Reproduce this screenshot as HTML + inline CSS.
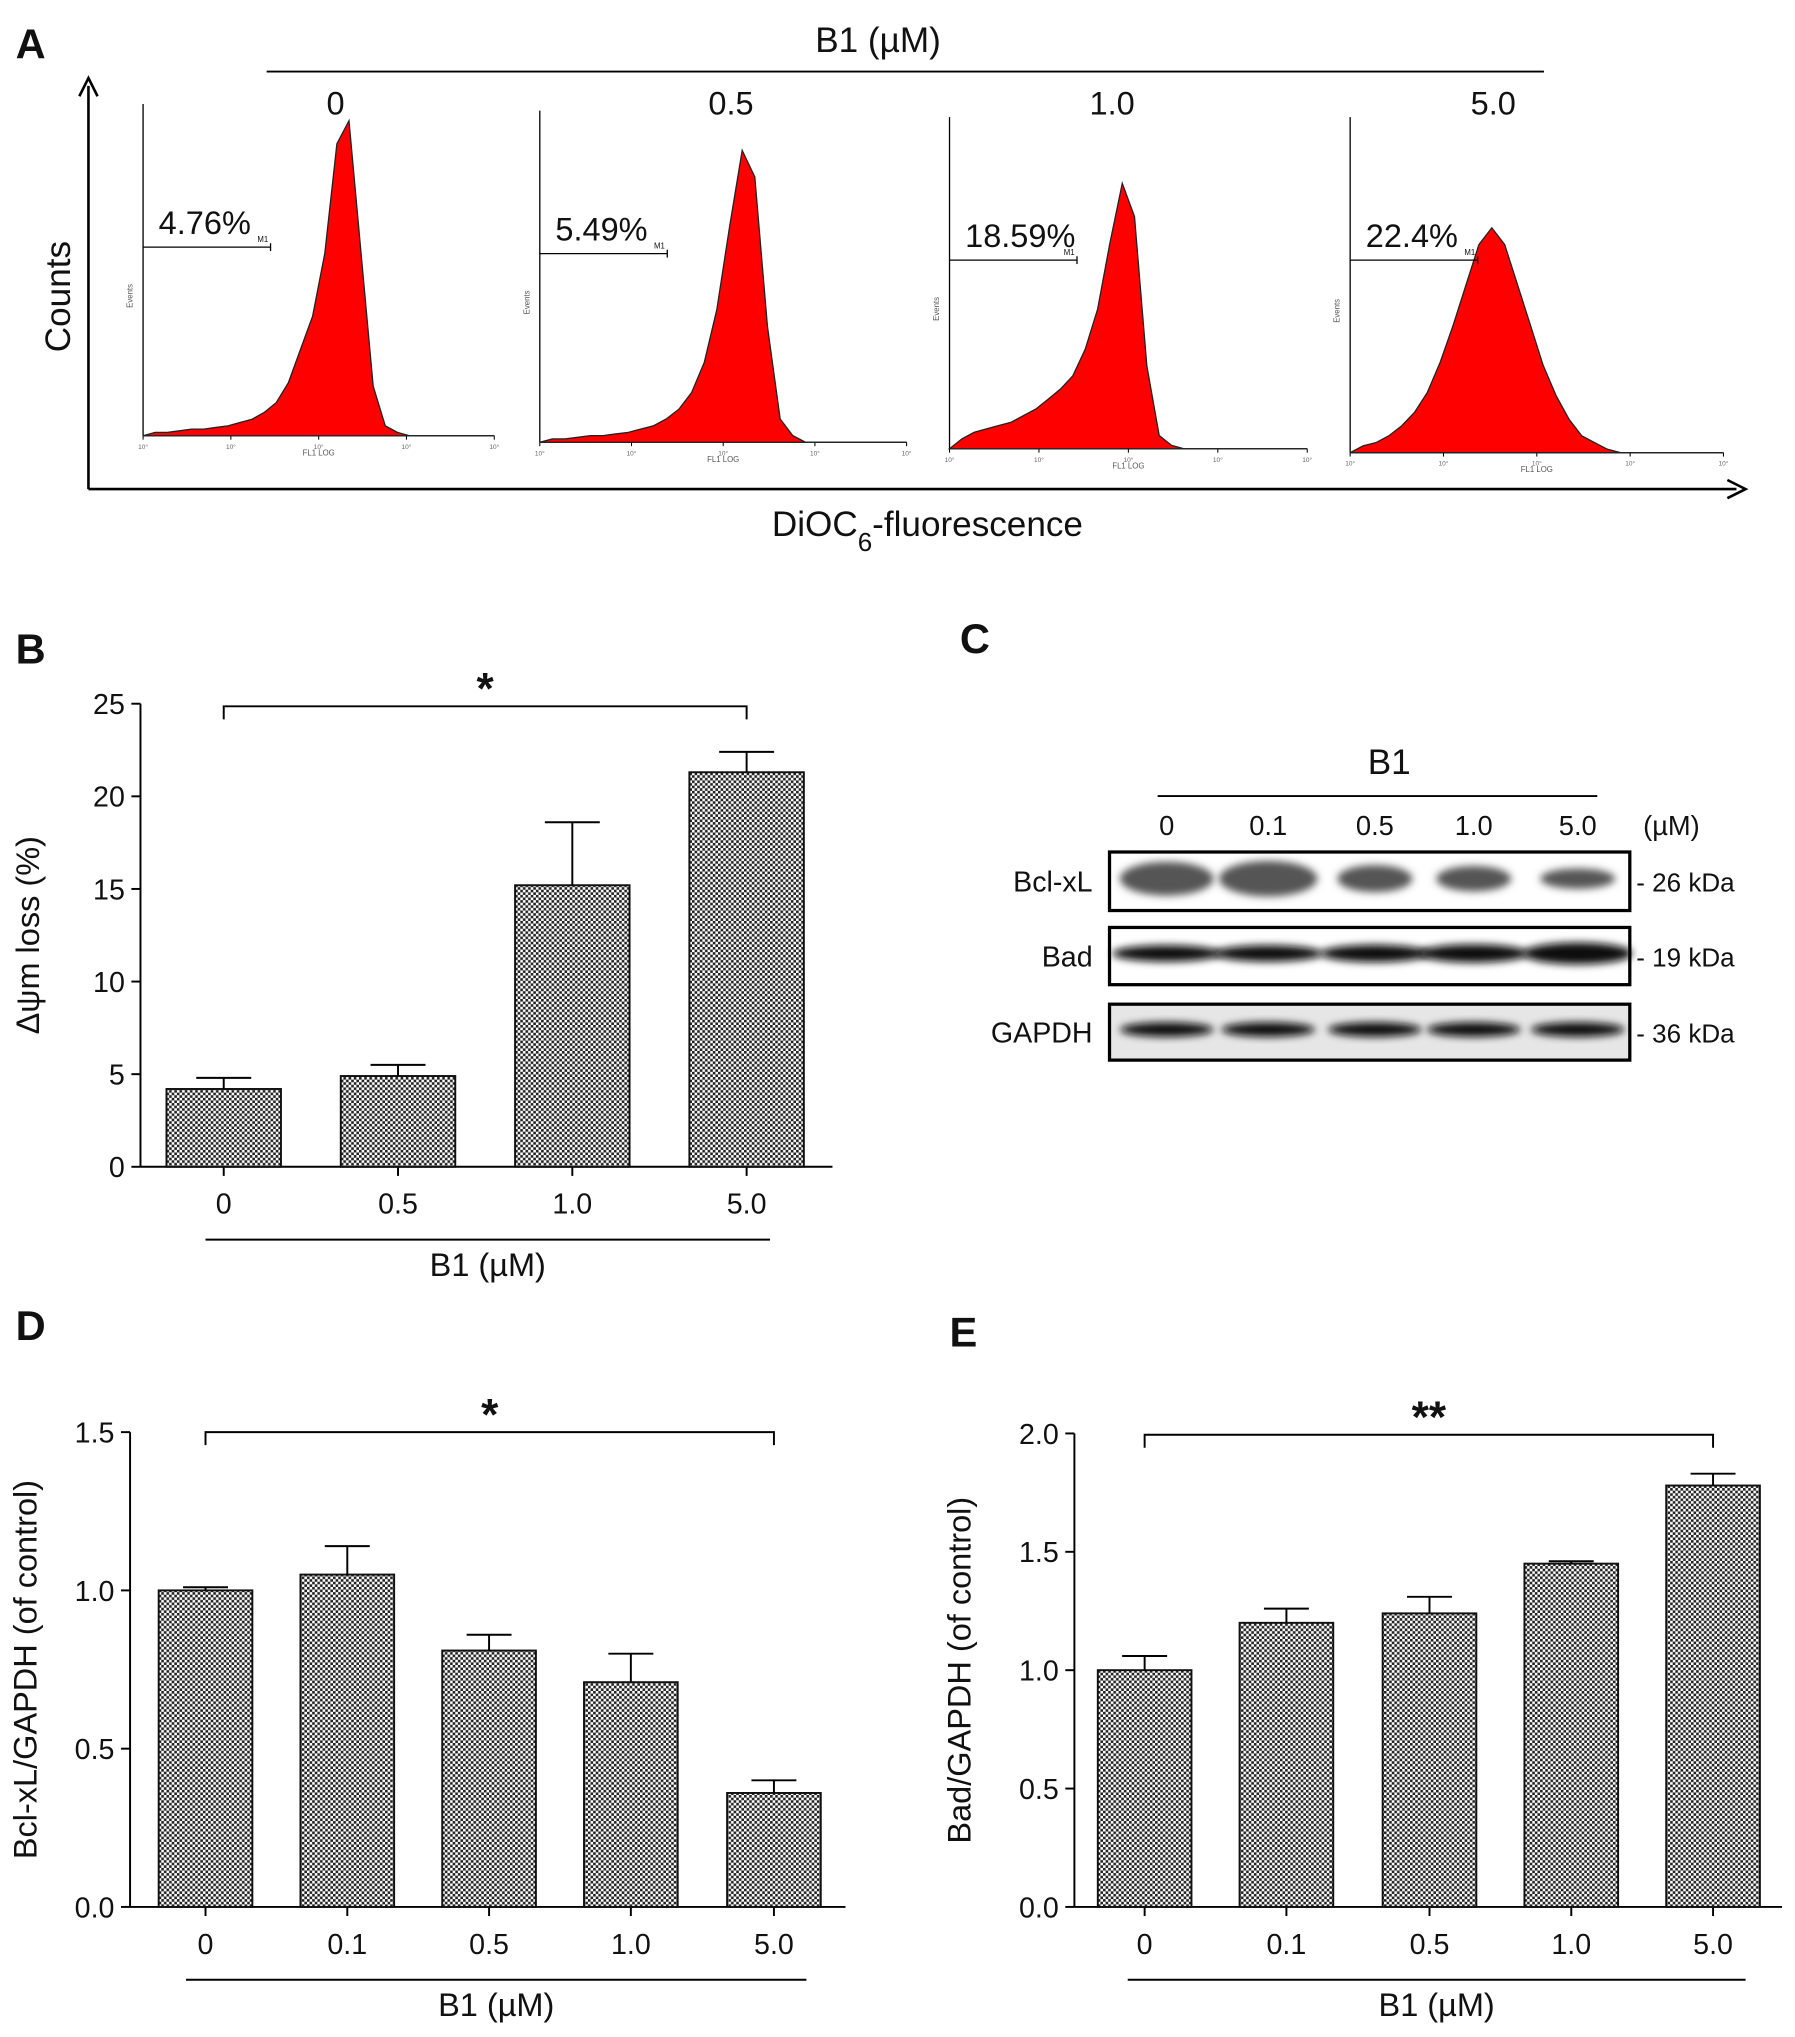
<!DOCTYPE html>
<html><head><meta charset="utf-8"><style>
html,body{margin:0;padding:0;background:#fff}
svg{display:block;font-family:"Liberation Sans",Arial,sans-serif}
</style></head><body>
<svg id="fig" width="1795" height="2037" viewBox="0 0 1380 1566" preserveAspectRatio="none" xmlns="http://www.w3.org/2000/svg">
<defs>
<pattern id="chk" width="4" height="4" patternUnits="userSpaceOnUse"><rect width="4" height="4" fill="#fff"/><rect width="2" height="2" fill="#222"/><rect x="2" y="2" width="2" height="2" fill="#222"/></pattern>
<filter id="blur" x="-20%" y="-50%" width="140%" height="200%"><feGaussianBlur stdDeviation="3"/></filter>
</defs>
<g id="root"></g>
</svg>
<script>
// ---- data ----
const histDoses = ["0","0.5","1.0","5.0"];
const histPercents = ["4.76%","5.49%","18.59%","22.4%"];
const hist0 = [0,0.01,0.01,0.015,0.02,0.02,0.025,0.03,0.04,0.05,0.07,0.1,0.16,0.26,0.36,0.55,0.88,0.95,0.55,0.15,0.03,0.01,0,0,0,0,0,0,0,0];
const hist05 = [0,0.01,0.01,0.015,0.02,0.02,0.025,0.03,0.04,0.05,0.07,0.1,0.15,0.24,0.4,0.65,0.88,0.8,0.35,0.07,0.02,0,0,0,0,0,0,0,0,0];
const hist10 = [0,0.03,0.05,0.06,0.07,0.08,0.1,0.12,0.15,0.18,0.22,0.3,0.42,0.62,0.8,0.7,0.25,0.04,0.01,0,0,0,0,0,0,0,0,0,0,0];
const hist50 = [0,0.02,0.03,0.05,0.08,0.12,0.18,0.27,0.38,0.5,0.62,0.67,0.62,0.5,0.38,0.26,0.17,0.1,0.05,0.03,0.01,0,0,0,0,0,0,0,0,0];
const bCats = ["0","0.5","1.0","5.0"];
const bVals = [4.2,4.9,15.2,21.3];
const bErrs = [0.6,0.6,3.4,1.1];
const bTicks = [0,5,10,15,20,25];
const dCats = ["0","0.1","0.5","1.0","5.0"];
const dVals = [1.0,1.05,0.81,0.71,0.36];
const dErrs = [0.01,0.09,0.05,0.09,0.04];
const dTicks = [0,0.5,1.0,1.5];
const eCats = ["0","0.1","0.5","1.0","5.0"];
const eVals = [1.0,1.2,1.24,1.45,1.78];
const eErrs = [0.06,0.06,0.07,0.01,0.05];
const eTicks = [0,0.5,1.0,1.5,2.0];
const blotLanes = ["0","0.1","0.5","1.0","5.0"];
const bclBand = [1.0,1.05,0.8,0.75,0.6];
const badBand = [0.9,0.9,0.95,1.0,1.2];
const gapBand = [1,1,1,1,1];

const NS="http://www.w3.org/2000/svg";
const root=document.getElementById('root');
function el(tag,attrs,parent,text){const e=document.createElementNS(NS,tag);for(const k in attrs)e.setAttribute(k,attrs[k]);if(text!==undefined)e.textContent=text;(parent||root).appendChild(e);return e;}
function line(x1,y1,x2,y2,w,p){return el('line',{x1,y1,x2,y2,stroke:'#000','stroke-width':w||1.5},p);}
function txt(x,y,s,size,anchor,p,extra){const t=el('text',Object.assign({x,y,'font-size':size,'text-anchor':anchor||'middle',fill:'#111'},extra||{}),p,s);return t;}

// ---- Panel labels ----
[["A",12,45],["B",12,510],["C",738,502],["D",12,1030],["E",730,1035]].forEach(([s,x,y])=>{
  const t=txt(x,y,s,32,'start',root,{'font-weight':'bold'});
  
  
});

// ---- Panel A ----
const gA=el('g',{});


txt(675,40,"B1 (µM)",27,'middle',gA);
line(205,55,1187,55,1.5,gA);
line(68,376,1335,376,2,gA);
line(68,376,68,66,2,gA);
el('path',{d:'M61,74 L68,60 L75,74',fill:'none',stroke:'#000','stroke-width':2},gA);
el('path',{d:'M1328,369 L1342,376 L1328,383',fill:'none',stroke:'#000','stroke-width':2},gA);
txt(0,0,"Counts",27,'middle',gA,{transform:'translate(54,228) rotate(-90)'});
const dt=txt(713,412,"DiOC",27,'middle',gA);
el('tspan',{'baseline-shift':'sub','font-size':20},dt,"6");
el('tspan',{},dt,"-fluorescence");
const hists=[hist0,hist05,hist10,hist50];
const panels=[[110,380,335,80],[415,697,340,85],[730,1005,345,90],[1038,1325,348,90]];
const labX=[258,562,855,1148];
panels.forEach((p,k)=>{
  const [x0,x1,yb,yt]=p; const H=yb-yt; const arr=hists[k];
  const g=el('g',{},gA);
  
  
  txt(labX[k],88,histDoses[k],25,'middle',g);
  line(x0,yb,x0,yt,1,g); line(x0,yb,x1,yb,1,g);
  for(let i=0;i<5;i++){const tx=x0+(x1-x0)*i/4;line(tx,yb,tx,yb+3,0.8,g);txt(tx,yb+10,"10°",5,'middle',g,{fill:'#666'});}
  txt((x0+x1)/2,yb+15,"FL1 LOG",6,'middle',g,{fill:'#555'});
  txt(0,0,"Events",6,'middle',g,{transform:`translate(${x0-8},${(yb+yt)/2+20}) rotate(-90)`,fill:'#555'});
  let d=`M${x0},${yb}`;
  arr.forEach((v,i)=>{const x=x0+(x1-x0)*i/(arr.length-1);d+=` L${x.toFixed(1)},${(yb-v*H).toFixed(1)}`;});
  d+=` L${x1},${yb} Z`;
  el('path',{d,fill:'#f00',stroke:'#222','stroke-width':1},g);
  const gy=yt+110; line(x0,gy,x0+98,gy,1,g); line(x0+98,gy-3,x0+98,gy+3,1,g);
  txt(x0+92,gy-4,"M1",6,'middle',g);
  txt(x0+12,gy-10,histPercents[k],25,'start',g);
});

// ---- bar chart helper ----
function barChart(name,cfg,cats,vals,errs,ticks){
  const g=el('g',{});
  
  
  const {ax,y0,yTop,vMax,xEnd,centers,bw}=cfg;
  const sy=v=>y0-(v/vMax)*(y0-yTop);
  line(ax,y0,ax,yTop,1.5,g); line(ax,y0,xEnd,y0,1.5,g);
  ticks.forEach(t=>{const y=sy(t);line(ax-7,y,ax,y,1.5,g);
    const lab=txt(ax-12,y+8,cfg.fmt(t),22,'end',g);
    
    });
  cats.forEach((c,i)=>{
    const cx=centers[i]; const y=sy(vals[i]); const ye=sy(vals[i]+errs[i]);
    line(cx,y0,cx,y0+7,1.5,g);
    const b=el('rect',{x:cx-bw/2,y,width:bw,height:y0-y,fill:'url(#chk)',stroke:'#111','stroke-width':1.5},g);
    
    
    line(cx,y,cx,ye,1.5,g); line(cx-bw*0.24,ye,cx+bw*0.24,ye,1.5,g);
    txt(cx,y0+36,c,22,'middle',g);
  });
  line(cfg.ulx[0],y0+56,cfg.ulx[1],y0+56,1.5,g);
  const xt=txt((cfg.ulx[0]+cfg.ulx[1])/2,y0+84,"B1 (µM)",25,'middle',g);
  
  
  const yt=txt(0,0,cfg.ylab,25,'middle',g,{transform:`translate(${cfg.ylx},${(y0+yTop)/2}) rotate(-90)`});
  
  
  const by=cfg.brY, bx0=centers[0], bx1=centers[centers.length-1];
  el('path',{d:`M${bx0},${by+10} L${bx0},${by} L${bx1},${by} L${bx1},${by+10}`,fill:'none',stroke:'#000','stroke-width':1.5},g);
  txt((bx0+bx1)/2,by-2,cfg.star,34,'middle',g,{'font-weight':'bold'});
}
barChart('bar-chart-b',{ax:108,y0:897,yTop:541,vMax:25,xEnd:640,centers:[172,306,440,574],bw:88,fmt:t=>String(t),ulx:[158,592],ylab:"Δψm loss (%)",ylx:30,brY:543,star:"*"},bCats,bVals,bErrs,bTicks);
barChart('bar-chart-d',{ax:100,y0:1466,yTop:1101,vMax:1.5,xEnd:650,centers:[158,267,376,485,595],bw:72,fmt:t=>t.toFixed(1),ulx:[143,620],ylab:"Bcl-xL/GAPDH (of control)",ylx:28,brY:1101,star:"*"},dCats,dVals,dErrs,dTicks);
barChart('bar-chart-e',{ax:826,y0:1466,yTop:1102,vMax:2.0,xEnd:1370,centers:[880,989,1099,1208,1317],bw:72,fmt:t=>t.toFixed(1),ulx:[867,1342],ylab:"Bad/GAPDH (of control)",ylx:746,brY:1103,star:"**"},eCats,eVals,eErrs,eTicks);

// ---- Panel C western blot ----
const gC=el('g',{});


txt(1068,595,"B1",27,'middle',gC);
line(890,612,1228,612,1.5,gC);
const laneX=[897,975,1057,1133,1213];
blotLanes.forEach((l,i)=>txt(laneX[i],642,l,21,'middle',gC));
txt(1285,642,"(µM)",21,'middle',gC);
const rows=[["Bcl-xL",655,700,bclBand,"- 26 kDa",26,'#555'],["Bad",713,757,badBand,"- 19 kDa",14,'#111'],["GAPDH",772,815,gapBand,"- 36 kDa",11,'#111']];
rows.forEach(([nm,y0,y1,bands,kd,bh,col])=>{
  const g=el('g',{},gC);
  
  
  if(nm==="GAPDH") el('rect',{x:853,y:y0,width:400,height:y1-y0,fill:'#e6e6e6'},g);
  const cy=(y0+y1)/2-2;
  bands.forEach((s,i)=>{
    const w=nm==="Bad"?84:72;
    el('ellipse',{cx:laneX[i],cy,rx:w/2*(nm==="Bad"?1:Math.max(0.8,s)),ry:bh/2*s,fill:col,filter:'url(#blur)'},g);
  });
  el('rect',{x:853,y:y0,width:400,height:y1-y0,fill:'none',stroke:'#000','stroke-width':2.5},g);
  txt(840,(y0+y1)/2+8,nm,22,'end',g);
  txt(1258,(y0+y1)/2+8,kd,20,'start',g);
});
</script>
</body></html>
